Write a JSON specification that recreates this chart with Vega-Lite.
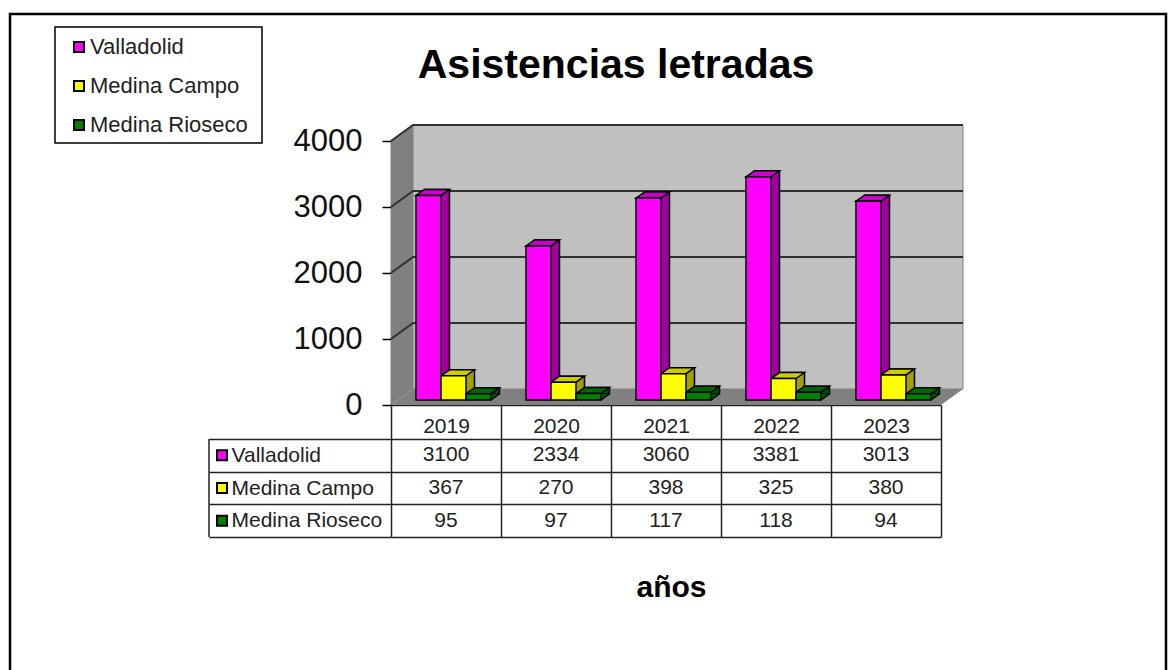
{
"$schema":"https://vega.github.io/schema/vega-lite/v6.json",
"autosize":{"type":"none"},
"padding":{"left":391,"top":141,"right":233,"bottom":265},
"width":550,"height":264,
"background":"white",
"config":{"view":{"stroke":null},"font":"Liberation Sans"},
"title":{"text":"Asistencias letradas","font":"Liberation Sans","fontSize":41,"fontWeight":"bold","color":"black","anchor":"middle","dx":-50,"offset":-78},
"data":{"values":[
{"year":"2019","serie":"Valladolid","value":3100,"zero":0},{"year":"2019","serie":"Medina Campo","value":367,"zero":0},{"year":"2019","serie":"Medina Rioseco","value":95,"zero":0},
{"year":"2020","serie":"Valladolid","value":2334,"zero":0},{"year":"2020","serie":"Medina Campo","value":270,"zero":0},{"year":"2020","serie":"Medina Rioseco","value":97,"zero":0},
{"year":"2021","serie":"Valladolid","value":3060,"zero":0},{"year":"2021","serie":"Medina Campo","value":398,"zero":0},{"year":"2021","serie":"Medina Rioseco","value":117,"zero":0},
{"year":"2022","serie":"Valladolid","value":3381,"zero":0},{"year":"2022","serie":"Medina Campo","value":325,"zero":0},{"year":"2022","serie":"Medina Rioseco","value":118,"zero":0},
{"year":"2023","serie":"Valladolid","value":3013,"zero":0},{"year":"2023","serie":"Medina Campo","value":380,"zero":0},{"year":"2023","serie":"Medina Rioseco","value":94,"zero":0}
]},
"resolve":{"scale":{"y":"independent","xOffset":"independent"}},
"layer":[
 {"data":{"values":[{"k":1}]},
  "mark":{"type":"point","shape":"M0,0L22,-16V-280L0,-264Z","size":4,"filled":true,"color":"#808080","opacity":1,"strokeWidth":0},
  "encoding":{"x":{"datum":"2019","type":"nominal","bandPosition":0,"scale":{"type":"band","domain":["2019","2020","2021","2022","2023"],"paddingInner":0,"paddingOuter":0},
     "axis":{"orient":"bottom","title":"años","titleFont":"Liberation Sans","titleFontSize":30,"titleFontWeight":"bold","titleColor":"black","titleX":280,"titleY":182,"titleBaseline":"middle","tickBand":"extent","tickSize":132,"tickColor":"#222","tickWidth":1.5,"domainColor":"#222","domainWidth":1.5,"labelAngle":0,"labelFont":"Liberation Sans","labelFontSize":21,"labelColor":"#222","labelBaseline":"middle","labelPadding":-111,"grid":false}},
   "y":{"datum":0,"type":"quantitative","scale":{"domain":[0,4000]},"axis":null}}},
 {"data":{"values":[{"k":1}]},
  "mark":{"type":"point","shape":"M22,-16H572V-280H22Z","size":4,"filled":true,"color":"#C0C0C0","opacity":1,"stroke":"#808080","strokeWidth":1},
  "encoding":{"x":{"datum":"2019","type":"nominal","bandPosition":0},"y":{"datum":0,"type":"quantitative","scale":{"domain":[0,4000]},"axis":null}}},
 {"data":{"values":[{"k":1}]},
  "mark":{"type":"point","shape":"M0,0L22,-16H572L550,0Z","size":4,"filled":true,"color":"#808080","opacity":1,"strokeWidth":0},
  "encoding":{"x":{"datum":"2019","type":"nominal","bandPosition":0},"y":{"datum":0,"type":"quantitative","scale":{"domain":[0,4000]},"axis":null}}},
 {"data":{"values":[{"tick":1000},{"tick":2000},{"tick":3000},{"tick":4000}]},
  "mark":{"type":"point","shape":"M0,0L22,-16H572","size":4,"filled":false,"stroke":"#303030","opacity":1,"strokeWidth":2},
  "encoding":{"x":{"datum":"2019","type":"nominal","bandPosition":0},"y":{"field":"tick","type":"quantitative","scale":{"domain":[0,4000]},"axis":null}}},
 {"mark":{"type":"bar","yOffset":-11,"y2Offset":-11,"stroke":"black","strokeWidth":1.5},
  "encoding":{"x":{"field":"year","type":"nominal"},
   "xOffset":{"field":"serie","type":"nominal","sort":null,"scale":{"type":"band","domain":["Valladolid","Medina Campo","Medina Rioseco"],"range":[33.5,108.5],"paddingInner":0,"paddingOuter":0}},
   "y":{"field":"value","type":"quantitative","stack":null,"scale":{"domain":[0,4000]},"axis":{"orient":"left","title":null,"values":[0,1000,2000,3000,4000],"format":"d","grid":false,"tickSize":9,"tickColor":"black","tickWidth":1.5,"domainColor":"black","domainWidth":1.5,"labelFont":"Liberation Sans","labelFontSize":31,"labelColor":"#111","labelPadding":20}},
   "y2":{"field":"zero"},
   "color":{"field":"serie","type":"nominal","sort":null,
     "scale":{"domain":["Valladolid","Medina Campo","Medina Rioseco"],"range":["#FF00FF","#FFFF00","#008000"]},
     "legend":{"title":null,"orient":"none","legendX":-323,"legendY":-105,"symbolType":"square","symbolSize":100,"symbolStrokeColor":"black","symbolStrokeWidth":2,"labelFont":"Liberation Sans","labelFontSize":22,"labelColor":"#222","labelOffset":0,"rowPadding":17,"padding":0,"labelLimit":220,"symbolOpacity":1}}}},
 {"mark":{"type":"bar","yOffset":-11,"y2Offset":-11,"fill":"black","fillOpacity":0.37,"strokeWidth":0},
  "encoding":{"x":{"field":"year","type":"nominal"},
   "xOffset":{"field":"serie","type":"nominal","sort":null,"scale":{"type":"band","domain":["Valladolid","Medina Campo","Medina Rioseco"],"range":[33.5,108.5],"paddingInner":0,"paddingOuter":0}},
   "y":{"field":"value","type":"quantitative","stack":null,"scale":{"domain":[0,4000]},"axis":null},
   "y2":{"field":"zero"}}},
 {"mark":{"type":"point","shape":"M12.5,-5L21,-11L12.5,-11Z","size":4,"filled":true,"opacity":1,"strokeWidth":0},
  "encoding":{"x":{"field":"year","type":"nominal"},
   "xOffset":{"field":"serie","type":"nominal","sort":null,"scale":{"type":"band","domain":["Valladolid","Medina Campo","Medina Rioseco"],"range":[25,100],"paddingInner":0,"paddingOuter":0}},
   "y":{"field":"zero","type":"quantitative","scale":{"domain":[0,4000]},"axis":null},
   "color":{"field":"serie","type":"nominal","sort":null,"legend":null}}},
 {"mark":{"type":"point","shape":"M12.5,-5L21,-11L12.5,-11Z","size":4,"filled":true,"fill":"#000","opacity":0.37,"strokeWidth":0},
  "encoding":{"x":{"field":"year","type":"nominal"},
   "xOffset":{"field":"serie","type":"nominal","sort":null,"scale":{"type":"band","domain":["Valladolid","Medina Campo","Medina Rioseco"],"range":[25,100],"paddingInner":0,"paddingOuter":0}},
   "y":{"field":"zero","type":"quantitative","scale":{"domain":[0,4000]},"axis":null}}},
 {"mark":{"type":"point","shape":"M12.5,-5L21,-11","size":4,"filled":false,"stroke":"black","opacity":1,"strokeWidth":1.5},
  "encoding":{"x":{"field":"year","type":"nominal"},
   "xOffset":{"field":"serie","type":"nominal","sort":null,"scale":{"type":"band","domain":["Valladolid","Medina Campo","Medina Rioseco"],"range":[25,100],"paddingInner":0,"paddingOuter":0}},
   "y":{"field":"zero","type":"quantitative","scale":{"domain":[0,4000]},"axis":null}}},
 {"mark":{"type":"point","shape":"M-12.5,-5L-4,-11L21,-11L12.5,-5Z","size":4,"filled":true,"opacity":1,"stroke":"black","strokeWidth":1.5},
  "encoding":{"x":{"field":"year","type":"nominal"},
   "xOffset":{"field":"serie","type":"nominal","sort":null,"scale":{"type":"band","domain":["Valladolid","Medina Campo","Medina Rioseco"],"range":[25,100],"paddingInner":0,"paddingOuter":0}},
   "y":{"field":"value","type":"quantitative","scale":{"domain":[0,4000]},"axis":null},
   "color":{"field":"serie","type":"nominal","sort":null,"legend":null}}},
 {"mark":{"type":"point","shape":"M-12.5,-5L-4,-11L21,-11L12.5,-5Z","size":4,"filled":true,"fill":"black","opacity":0.2,"strokeWidth":0},
  "encoding":{"x":{"field":"year","type":"nominal"},
   "xOffset":{"field":"serie","type":"nominal","sort":null,"scale":{"type":"band","domain":["Valladolid","Medina Campo","Medina Rioseco"],"range":[25,100],"paddingInner":0,"paddingOuter":0}},
   "y":{"field":"value","type":"quantitative","scale":{"domain":[0,4000]},"axis":null}}},
 {"mark":{"type":"bar","yOffset":-5,"y2Offset":-5,"stroke":"black","strokeWidth":1.5},
  "encoding":{"x":{"field":"year","type":"nominal"},
   "xOffset":{"field":"serie","type":"nominal","sort":null,"scale":{"type":"band","domain":["Valladolid","Medina Campo","Medina Rioseco"],"range":[25,100],"paddingInner":0,"paddingOuter":0}},
   "y":{"field":"value","type":"quantitative","stack":null,"scale":{"domain":[0,4000]},"axis":null},
   "y2":{"field":"zero"},
   "color":{"field":"serie","type":"nominal","sort":null,"legend":null}}},
 {"data":{"values":[{"k":1}]},
  "mark":{"type":"point","shape":"M-336,-378H-129V-262H-336Z","size":4,"filled":false,"stroke":"black","opacity":1,"strokeWidth":1.5},
  "encoding":{"x":{"datum":"2019","type":"nominal","bandPosition":0},"y":{"datum":0,"type":"quantitative","scale":{"domain":[0,4000]},"axis":null}}},
 {"data":{"values":[{"k":1}]},
  "mark":{"type":"point","shape":"M-381,270V-391H775V270","size":4,"filled":false,"stroke":"black","opacity":1,"strokeWidth":2.5},
  "encoding":{"x":{"datum":"2019","type":"nominal","bandPosition":0},"y":{"datum":0,"type":"quantitative","scale":{"domain":[0,4000]},"axis":null}}},
 {"mark":{"type":"text","font":"Liberation Sans","fontSize":21,"color":"#222"},
  "encoding":{"x":{"field":"year","type":"nominal"},
   "y":{"field":"serie","type":"nominal","sort":null,
     "scale":{"type":"band","domain":["Valladolid","Medina Campo","Medina Rioseco"],"range":[298,396],"paddingInner":0,"paddingOuter":0},
     "axis":{"orient":"left","title":null,"domain":false,"tickBand":"extent","tickSize":182,"tickColor":"#222","tickWidth":1.5,"grid":true,"gridColor":"#222","gridWidth":1.5,"gridOpacity":1,"labelAlign":"left","labelBaseline":"middle","labelPadding":-22,"labelFont":"Liberation Sans","labelFontSize":21,"labelColor":"#222"}},
   "text":{"field":"value","type":"quantitative"}}},
 {"data":{"values":[{"serie":"Valladolid"},{"serie":"Medina Campo"},{"serie":"Medina Rioseco"}]},
  "mark":{"type":"point","shape":"square","size":100,"filled":true,"opacity":1,"stroke":"black","strokeWidth":2,"xOffset":-169},
  "encoding":{"x":{"datum":"2019","type":"nominal","bandPosition":0},
   "y":{"field":"serie","type":"nominal","sort":null,"scale":{"type":"band","domain":["Valladolid","Medina Campo","Medina Rioseco"],"range":[298,396],"paddingInner":0,"paddingOuter":0},"axis":null},
   "color":{"field":"serie","type":"nominal","sort":null,"legend":null}}},
 {"data":{"values":[{"serie":"Medina Campo"}]},
  "mark":{"type":"point","shape":"M-182,-49V49","size":4,"filled":false,"stroke":"#222","opacity":1,"strokeWidth":1.5},
  "encoding":{"x":{"datum":"2019","type":"nominal","bandPosition":0},
   "y":{"field":"serie","type":"nominal","sort":null,"scale":{"type":"band","domain":["Valladolid","Medina Campo","Medina Rioseco"],"range":[298,396],"paddingInner":0,"paddingOuter":0},"axis":null}}}
]}
